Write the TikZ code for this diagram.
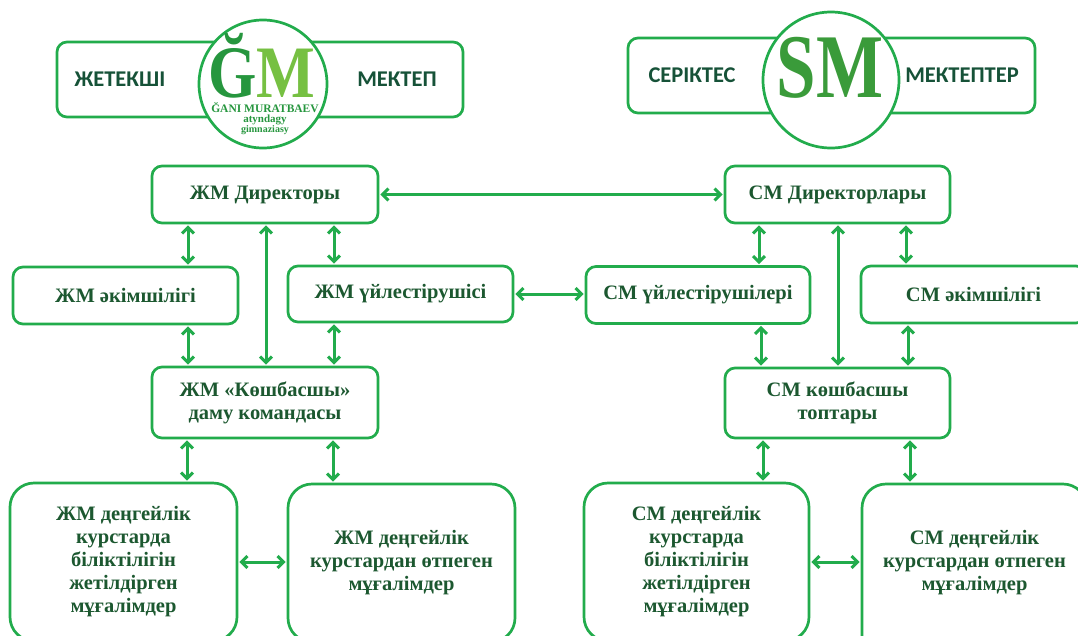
\documentclass[tikz,border=0pt]{standalone}
\usepackage{fontspec}
\usepackage{graphicx}
\setmainfont{Liberation Serif}
\newfontfamily\bannerfont{Carlito}
\usetikzlibrary{arrows.meta}
\definecolor{bgreen}{RGB}{34,172,76}
\definecolor{tgreen}{RGB}{28,88,48}
\definecolor{bantext}{RGB}{22,82,56}
\definecolor{lgreen}{RGB}{118,192,66}
\definecolor{dgreen}{RGB}{38,150,62}
\definecolor{smgreen}{RGB}{58,155,58}
\begin{document}
\begin{tikzpicture}[x=1pt,y=-1pt,
 box/.style={draw=bgreen, line width=2.7pt, rounded corners=10pt, fill=white, text=tgreen,
   font=\bfseries\fontsize{20.5}{23}\selectfont, align=center, inner sep=0pt},
 bigbox/.style={box, rounded corners=24pt},
 boxtext/.style={text=tgreen, font=\bfseries\fontsize{20.5}{23}\selectfont, align=center, inner sep=0pt},
 banner/.style={draw=bgreen, line width=2.7pt, rounded corners=10pt, inner sep=0pt},
 bantxt/.style={text=bantext, font=\bannerfont\bfseries\fontsize{22.5}{24}\selectfont, inner sep=0pt},
 logocirc/.style={circle, draw=bgreen, line width=2.7pt, fill=white, inner sep=0pt},
 arr/.style={draw=bgreen, line width=3pt,
   {Straight Barb[length=6pt,width=12pt]}-{Straight Barb[length=6pt,width=12pt]},
   shorten <=1pt, shorten >=1pt},
]
\clip (0,0) rectangle (1078,635);
\fill[white] (0,0) rectangle (1078,635);

% ---- banners ----
\node[banner, minimum width=406pt, minimum height=75pt] (banL) at (260,79.5) {};
\node[bantxt] (jet) at (120,79.5) {ЖЕТЕКШІ};
\node[bantxt] (mek) at (397,79.5) {МЕКТЕП};
\node[logocirc, minimum size=128pt] (logoL) at (263,84) {};
\node[anchor=base, inner sep=0pt, font=\bfseries\fontsize{74}{74}\selectfont] (gm) at (262,97)
  {\raisebox{0pt}[\height][0pt]{\scalebox{0.84}[1]{\textcolor{dgreen}{Ğ}\textcolor{lgreen}{M}}}};
\node[anchor=base, inner sep=0pt, text=dgreen, font=\bfseries\fontsize{11.5}{12}\selectfont] (gm1) at (265,112) {ĞANI MURATBAEV};
\node[anchor=base, inner sep=0pt, text=dgreen, font=\bfseries\fontsize{11}{12}\selectfont] (gm2) at (265,122) {atyndagy};
\node[anchor=base, inner sep=0pt, text=dgreen, font=\bfseries\fontsize{10}{12}\selectfont] (gm3) at (265,132) {gimnaziasy};

\node[banner, minimum width=407pt, minimum height=75pt] (banR) at (831.5,75.5) {};
\node[bantxt] (ser) at (692,75.5) {СЕРІКТЕС};
\node[bantxt] (mekt) at (962,75.5) {МЕКТЕПТЕР};
\node[logocirc, minimum size=136pt] (logoR) at (831,80) {};
\node[anchor=base, inner sep=0pt, text=smgreen, font=\bfseries\fontsize{91}{91}\selectfont] (sm) at (830,97)
  {\raisebox{0pt}[\height][0pt]{\scalebox{0.78}[1]{SM}}};

% ---- ЖМ side ----
\node[box, minimum width=226pt, minimum height=57pt] (jmdir) at (265,194.5) {ЖМ Директоры};
\node[box, minimum width=225pt, minimum height=57pt] (jmadm) at (125.5,295.5) {ЖМ әкімшілігі};
\node[box, minimum width=225pt, minimum height=56pt] (jmcoo) at (400.5,294) {ЖМ үйлестірушісі};
\node[box, minimum width=226pt, minimum height=71pt] (jmlead) at (265,402.5) {ЖМ «Көшбасшы»\\даму командасы};
\node[bigbox, minimum width=227pt, minimum height=158pt] (jmb1) at (123.5,562)
  {ЖМ деңгейлік\\курстарда\\біліктілігін\\жетілдірген\\мұғалімдер};
\node[bigbox, minimum width=227pt, minimum height=158pt] (jmb2) at (401.5,563)
  {ЖМ деңгейлік\\курстардан өтпеген\\мұғалімдер};

% ---- СМ side ----
\node[box, minimum width=225pt, minimum height=57pt] (smdir) at (837.5,194.5) {СМ Директорлары};
\node[box, minimum width=224pt, minimum height=57pt] (smcoo) at (698,295) {СМ үйлестірушілері};
\node[box, minimum width=225pt, minimum height=57pt] (smadm) at (973.5,294.5) {СМ әкімшілігі};
\node[box, minimum width=225pt, minimum height=70pt] (smlead) at (837.5,403) {СМ көшбасшы\\топтары};
\node[bigbox, minimum width=225pt, minimum height=158pt] (smb1) at (696.5,562)
  {СМ деңгейлік\\курстарда\\біліктілігін\\жетілдірген\\мұғалімдер};
\node[bigbox, minimum width=225pt, minimum height=190pt] (smb2) at (974.5,579) {};
\node[boxtext] (smb2t) at (974.5,563) {СМ деңгейлік\\курстардан өтпеген\\мұғалімдер};

% ---- connectors ЖМ ----
\draw[arr] (188,0 |- jmdir.south) -- (188,0 |- jmadm.north);
\draw[arr] (334,0 |- jmdir.south) -- (334,0 |- jmcoo.north);
\draw[arr] (266,0 |- jmdir.south) -- (266,0 |- jmlead.north);
\draw[arr] (188,0 |- jmadm.south) -- (188,0 |- jmlead.north);
\draw[arr] (334,0 |- jmcoo.south) -- (334,0 |- jmlead.north);
\draw[arr] (187,0 |- jmlead.south) -- (187,0 |- jmb1.north);
\draw[arr] (333,0 |- jmlead.south) -- (333,0 |- jmb2.north);
\draw[arr] (jmb1.east) -- (jmb1.east -| jmb2.west);

% ---- connectors СМ ----
\draw[arr] (759,0 |- smdir.south) -- (759,0 |- smcoo.north);
\draw[arr] (906,0 |- smdir.south) -- (906,0 |- smadm.north);
\draw[arr] (838,0 |- smdir.south) -- (838,0 |- smlead.north);
\draw[arr] (761,0 |- smcoo.south) -- (761,0 |- smlead.north);
\draw[arr] (908,0 |- smadm.south) -- (908,0 |- smlead.north);
\draw[arr] (763,0 |- smlead.south) -- (763,0 |- smb1.north);
\draw[arr] (910,0 |- smlead.south) -- (910,0 |- smb2.north);
\draw[arr] (smb1.east) -- (smb1.east -| smb2.west);

% ---- cross connectors ----
\draw[arr] (jmdir.east) -- (smdir.west);
\draw[arr] (jmcoo.east) -- (jmcoo.east -| smcoo.west);
\end{tikzpicture}
\end{document}
